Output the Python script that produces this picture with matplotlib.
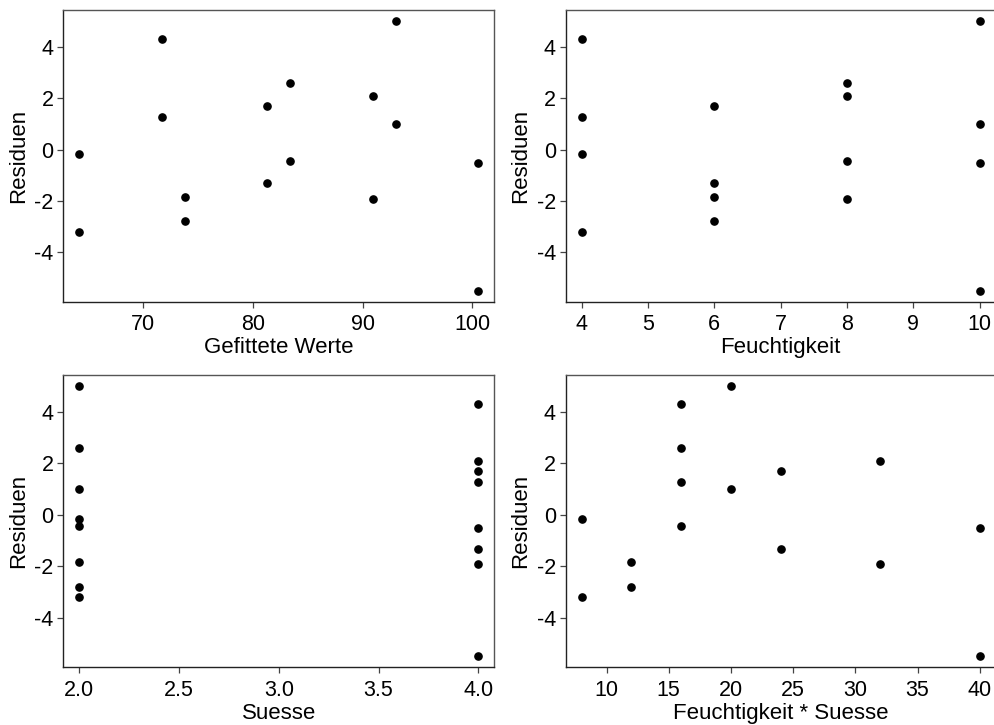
import matplotlib
matplotlib.use("Agg")
import matplotlib.pyplot as plt
import numpy as np

plt.rcParams['font.family'] = ['Liberation Sans', 'DejaVu Sans']

# Data
feuchtigkeit = [4, 4, 4, 4, 6, 6, 6, 6, 8, 8, 8, 8, 10, 10, 10, 10]
suesse = [2, 2, 4, 4, 2, 2, 4, 4, 2, 2, 4, 4, 2, 2, 4, 4]
gefittet = [64.2, 64.2, 71.7, 71.7, 73.85, 73.85, 81.3, 81.3,
            83.4, 83.4, 90.95, 90.95, 93.05, 93.05, 100.55, 100.55]
residuen = [-0.18, -3.21, 4.32, 1.28, -1.83, -2.80, 1.71, -1.32,
            2.61, -0.43, 2.10, -1.91, 5.02, 1.01, -0.51, -5.51]
interaktion = [f * s for f, s in zip(feuchtigkeit, suesse)]

panels = [
    (gefittet, "Gefittete Werte", [70, 80, 90, 100], ["70", "80", "90", "100"]),
    (feuchtigkeit, "Feuchtigkeit", [4, 5, 6, 7, 8, 9, 10], ["4", "5", "6", "7", "8", "9", "10"]),
    (suesse, "Suesse", [2.0, 2.5, 3.0, 3.5, 4.0], ["2.0", "2.5", "3.0", "3.5", "4.0"]),
    (interaktion, "Feuchtigkeit * Suesse", [10, 15, 20, 25, 30, 35, 40],
     ["10", "15", "20", "25", "30", "35", "40"]),
]
yticks = [-4, -2, 0, 2, 4]
yticklabels = ["-4", "-2", "0", "2", "4"]

W, H = 995, 725
fig = plt.figure(figsize=(W / 100, H / 100), dpi=100)

# pixel boxes: left, top, width, height
boxes = [
    (63.3, 10, 431, 291.7),
    (565.7, 10, 430, 291.7),
    (63.3, 375, 431, 292.3),
    (565.7, 375, 430, 292.3),
]

for (x, xlabel, xt, xtl), (l, t, w, h) in zip(panels, boxes):
    ax = fig.add_axes([l / W, (H - t - h) / H, w / W, h / H])
    ax.plot(x, residuen, 'o', color='black', markersize=5.2, linestyle='none')
    xmin, xmax = min(x), max(x)
    dx = (xmax - xmin) * 0.04
    ax.set_xlim(xmin - dx, xmax + dx)
    ymin, ymax = min(residuen), max(residuen)
    dy = (ymax - ymin) * 0.04
    ax.set_ylim(ymin - dy, ymax + dy)
    ax.set_xticks(xt)
    ax.set_xticklabels(xtl)
    ax.set_yticks(yticks)
    ax.set_yticklabels(yticklabels)
    ax.tick_params(direction='out', length=4, width=0.9, color='#444444',
                   labelsize=15.5)
    ax.tick_params(axis='x', pad=5.0)
    ax.tick_params(axis='y', pad=3.0)
    for side in ['left', 'bottom']:
        ax.spines[side].set_color('#222222')
        ax.spines[side].set_linewidth(1.0)
    for side in ['top', 'right']:
        ax.spines[side].set_color('#555555')
        ax.spines[side].set_linewidth(1.0)
    ax.set_xlabel(xlabel, fontsize=16, labelpad=1.5)
    ax.set_ylabel("Residuen", fontsize=16, labelpad=4)

fig.savefig("out.png", dpi=100)
